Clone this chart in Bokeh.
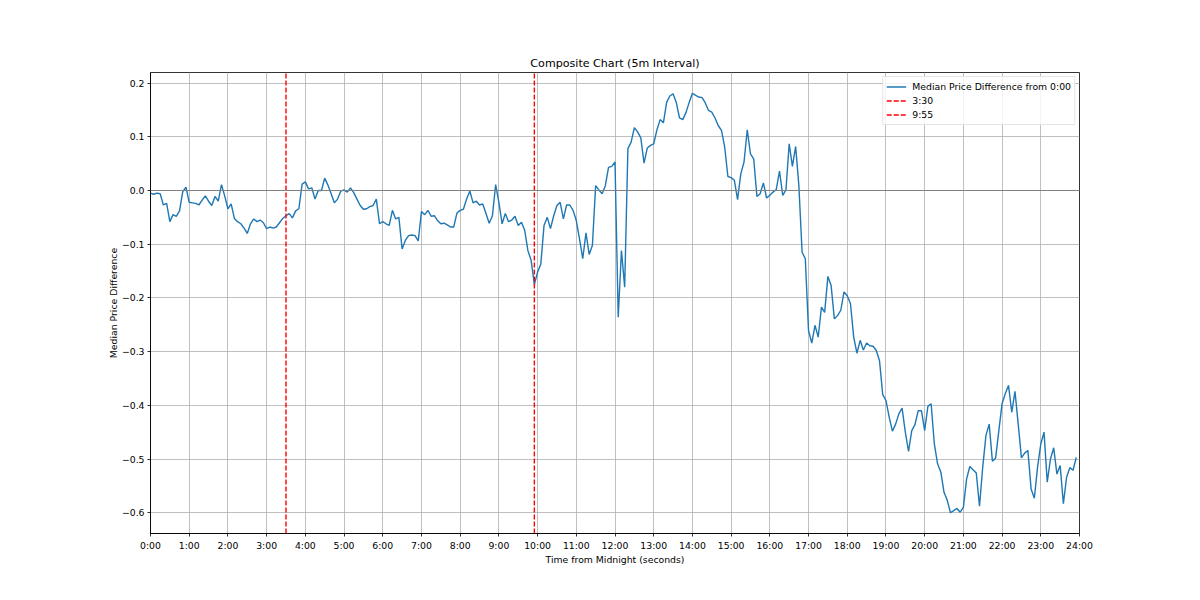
from bokeh.plotting import figure
from bokeh.models import Range1d, Span, FixedTicker
from bokeh.embed import file_html
from bokeh.resources import INLINE

# median price difference from 0:00, one value every 5 minutes (one row per hour)
median_diff = [
    -0.005, -0.007, -0.005, -0.006, -0.027, -0.024, -0.058, -0.045, -0.048, -0.038, -0.002, 0.006,
    -0.022, -0.023, -0.024, -0.027, -0.018, -0.010, -0.020, -0.028, -0.011, -0.020, 0.011, -0.010,
    -0.034, -0.025, -0.052, -0.058, -0.062, -0.070, -0.080, -0.062, -0.053, -0.058, -0.055, -0.060,
    -0.071, -0.068, -0.070, -0.068, -0.060, -0.052, -0.047, -0.043, -0.051, -0.038, -0.034, 0.012,
    0.016, 0.003, 0.005, -0.016, 0.000, 0.000, 0.023, 0.010, -0.006, -0.023, -0.016, -0.001,
    0.001, -0.003, 0.005, -0.004, -0.016, -0.028, -0.035, -0.034, -0.030, -0.028, -0.016, -0.062,
    -0.058, -0.062, -0.065, -0.037, -0.053, -0.050, -0.109, -0.093, -0.084, -0.083, -0.084, -0.094,
    -0.039, -0.045, -0.037, -0.048, -0.047, -0.056, -0.062, -0.061, -0.064, -0.068, -0.068, -0.042,
    -0.037, -0.035, -0.016, -0.001, -0.023, -0.020, -0.027, -0.025, -0.043, -0.061, -0.047, 0.011,
    -0.022, -0.062, -0.043, -0.058, -0.055, -0.048, -0.065, -0.059, -0.074, -0.112, -0.130, -0.175,
    -0.152, -0.137, -0.065, -0.050, -0.071, -0.047, -0.028, -0.022, -0.053, -0.027, -0.027, -0.037,
    -0.056, -0.090, -0.127, -0.079, -0.119, -0.102, 0.009, 0.001, -0.006, 0.009, 0.043, 0.045,
    0.053, -0.236, -0.112, -0.180, 0.078, 0.090, 0.117, 0.109, 0.098, 0.051, 0.079, 0.084,
    0.087, 0.113, 0.132, 0.126, 0.164, 0.176, 0.180, 0.164, 0.135, 0.132, 0.145, 0.164,
    0.181, 0.177, 0.174, 0.173, 0.163, 0.149, 0.146, 0.135, 0.121, 0.112, 0.081, 0.026,
    0.024, 0.019, -0.017, 0.031, 0.053, 0.113, 0.068, 0.059, -0.011, -0.006, 0.014, -0.014,
    -0.009, -0.003, 0.002, 0.036, -0.009, 0.001, 0.087, 0.045, 0.082, 0.009, -0.115, -0.127,
    -0.261, -0.284, -0.251, -0.273, -0.217, -0.227, -0.160, -0.177, -0.239, -0.233, -0.223, -0.189,
    -0.196, -0.211, -0.273, -0.303, -0.279, -0.297, -0.284, -0.289, -0.290, -0.298, -0.317, -0.380,
    -0.391, -0.422, -0.448, -0.435, -0.416, -0.405, -0.450, -0.486, -0.447, -0.436, -0.410, -0.410,
    -0.447, -0.402, -0.397, -0.472, -0.509, -0.524, -0.562, -0.577, -0.600, -0.596, -0.592, -0.599,
    -0.590, -0.537, -0.514, -0.520, -0.526, -0.588, -0.515, -0.456, -0.435, -0.504, -0.498, -0.447,
    -0.397, -0.378, -0.363, -0.413, -0.374, -0.435, -0.498, -0.489, -0.484, -0.556, -0.573, -0.515,
    -0.472, -0.450, -0.543, -0.500, -0.479, -0.528, -0.512, -0.583, -0.534, -0.516, -0.521, -0.497,
]
interval_sec = 300
times = [i * interval_sec for i in range(len(median_diff))]

marker_times = [12600, 35700]
marker_labels = ["3:30", "9:55"]

hour_ticks = [h * 3600 for h in range(25)]
hour_labels = [f"{h}:00" for h in range(25)]
y_ticks = [-0.6, -0.5, -0.4, -0.3, -0.2, -0.1, 0.0, 0.1, 0.2]
y_labels = ["\u22120.6", "\u22120.5", "\u22120.4", "\u22120.3", "\u22120.2", "\u22120.1", "0.0", "0.1", "0.2"]

y_lo, y_hi = -0.6387, 0.2197
FONT = "DejaVu Sans"
FS = "9.3px"

p = figure(width=1200, height=600, output_backend="svg", toolbar_location=None,
           title="Composite Chart (5m Interval)",
           x_range=Range1d(0, 86400), y_range=Range1d(y_lo, y_hi),
           x_axis_label="Time from Midnight (seconds)",
           y_axis_label="Median Price Difference")
p.min_border_left = 150
p.min_border_right = 121
p.min_border_top = 72
p.min_border_bottom = 67
p.background_fill_color = "white"
p.border_fill_color = "white"
p.outline_line_color = "black"
p.outline_line_width = 0.8

p.title.align = "center"
p.title.text_font = FONT
p.title.text_font_size = "11.1px"
p.title.text_font_style = "normal"
p.title.text_color = "black"
p.title.standoff = 5

p.xaxis.ticker = FixedTicker(ticks=hour_ticks)
p.xaxis.major_label_overrides = dict(zip(hour_ticks, hour_labels))
p.yaxis.ticker = FixedTicker(ticks=y_ticks)
p.yaxis.major_label_overrides = dict(zip(y_ticks, y_labels))

for ax in (p.xaxis, p.yaxis):
    ax.axis_line_color = "black"
    ax.axis_line_width = 0.8
    ax.major_tick_line_color = "black"
    ax.major_tick_line_width = 0.8
    ax.major_tick_out = 3
    ax.major_tick_in = 0
    ax.minor_tick_line_color = None
    ax.major_label_text_font = FONT
    ax.major_label_text_font_size = FS
    ax.major_label_text_color = "black"
    ax.major_label_standoff = 3
    ax.axis_label_text_font = FONT
    ax.axis_label_text_font_size = FS
    ax.axis_label_text_font_style = "normal"
    ax.axis_label_text_color = "black"
    ax.axis_label_standoff = 0

p.grid.grid_line_color = "#b0b0b0"
p.grid.grid_line_width = 0.8
p.grid.grid_line_alpha = 1.0

p.add_layout(Span(location=0, dimension="width", line_color="gray", line_width=1.0))

p.line(times, median_diff, line_color="#1f77b4", line_width=1.4,
       legend_label="Median Price Difference from 0:00")
for t, lab in zip(marker_times, marker_labels):
    p.line([t, t], [y_lo, y_hi], line_color="red", line_width=1.4,
           line_dash="5 2", legend_label=lab)

lg = p.legend[0]
lg.location = "top_right"
lg.margin = 4
lg.padding = 3
lg.spacing = 1
lg.glyph_width = 20
lg.glyph_height = 13
lg.label_height = 13
lg.label_standoff = 6
lg.label_text_font = FONT
lg.label_text_font_size = FS
lg.label_text_color = "black"
lg.border_line_color = "#cccccc"
lg.border_line_width = 0.8
lg.background_fill_alpha = 0.8

open("out.html", "w").write(file_html(p, INLINE))
